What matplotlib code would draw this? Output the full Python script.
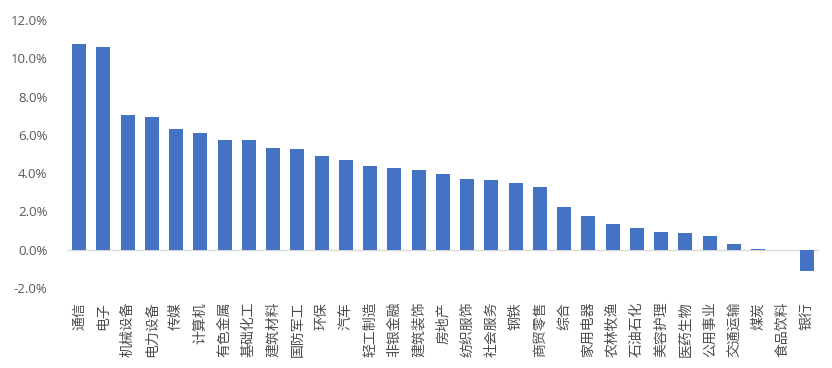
import numpy as np
import matplotlib
matplotlib.use("Agg")
import matplotlib.pyplot as plt
from matplotlib.ticker import FuncFormatter

plt.rcParams['font.family'] = ['Noto Sans CJK SC', 'DejaVu Sans']

industries = ['通信', '电子', '机械设备', '电力设备', '传媒', '计算机', '有色金属',
              '基础化工', '建筑材料', '国防军工', '环保', '汽车', '轻工制造', '非银金融',
              '建筑装饰', '房地产', '纺织服饰', '社会服务', '钢铁', '商贸零售', '综合',
              '家用电器', '农林牧渔', '石油石化', '美容护理', '医药生物', '公用事业',
              '交通运输', '煤炭', '食品饮料', '银行']
returns = [10.73, 10.60, 7.02, 6.92, 6.29, 6.11, 5.72, 5.71, 5.31, 5.26, 4.87, 4.68,
           4.35, 4.25, 4.18, 3.95, 3.67, 3.62, 3.49, 3.27, 2.24, 1.78, 1.33, 1.15,
           0.94, 0.87, 0.70, 0.32, 0.06, 0.0, -1.12]
yticks = [-2, 0, 2, 4, 6, 8, 10, 12]

fig = plt.figure(figsize=(8.32, 3.68), dpi=100)
ax = fig.add_axes([0.0805, 0.2174, 0.9035, 0.7283])

x = np.arange(len(industries))
ax.bar(x, returns, width=0.58, color='#4472C4', zorder=2)
ax.axhline(0, color='#D9D9D9', linewidth=1, zorder=1)

ax.set_xlim(-0.5, len(industries) - 0.5)
ax.set_ylim(-2, 12)
ax.set_yticks(yticks)
ax.yaxis.set_major_formatter(FuncFormatter(lambda v, p: f'{v:.1f}%'))
ax.set_xticks(x)
ax.set_xticklabels(industries, rotation=90, fontsize=10, color='#4d4d4d')

for s in ax.spines.values():
    s.set_visible(False)
ax.tick_params(axis='both', length=0)
ax.tick_params(axis='y', labelsize=9.5, labelcolor='#595959', pad=14)
ax.tick_params(axis='x', pad=10)
for t in ax.get_yticklabels():
    t.set_family(['Open Sans', 'DejaVu Sans'])

fig.savefig('out.png', dpi=100)
